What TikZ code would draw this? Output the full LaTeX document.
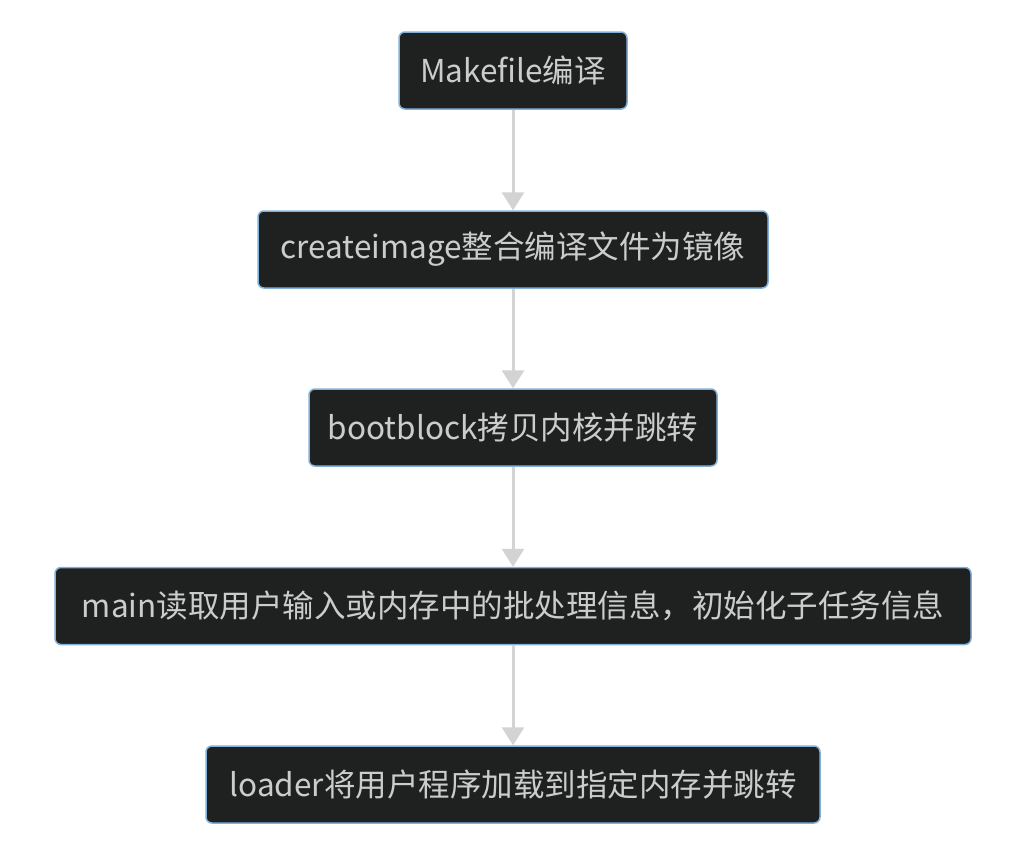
\documentclass[tikz,border=0pt]{standalone}
\usepackage{fontspec}
\setmainfont{Noto Sans CJK SC}
\usetikzlibrary{arrows.meta}
\definecolor{boxfill}{HTML}{1F2020}
\definecolor{boxline}{HTML}{81B1DB}
\definecolor{txt}{HTML}{CCCCCC}
\definecolor{arr}{HTML}{D3D3D3}
\begin{document}
\begin{tikzpicture}[x=1pt,y=-1pt,
  stepbox/.style={draw=boxline,line width=1.5pt,fill=boxfill,rounded corners=6pt,
    text=txt,font=\fontsize{31.5}{36}\selectfont,inner sep=0pt,anchor=center},
  conn/.style={draw=arr,line width=3pt,-{Triangle[width=22pt,length=18pt]}}]
\useasboundingbox[fill=white] (0,0) rectangle (1011,841);
\node[stepbox,minimum width=228pt,minimum height=77pt] (a) at (513,70.5) {Makefile编译};
\node[stepbox,minimum width=510pt,minimum height=77pt] (b) at (513,249.5) {createimage整合编译文件为镜像};
\node[stepbox,minimum width=408pt,minimum height=77pt] (c) at (513,427.5) {bootblock拷贝内核并跳转};
\node[stepbox,minimum width=916pt,minimum height=77pt] (d) at (513,606) {main读取用户输入或内存中的批处理信息，初始化子任务信息};
\node[stepbox,minimum width=614pt,minimum height=77pt] (e) at (513,784.5) {loader将用户程序加载到指定内存并跳转};
\draw[conn] (a) -- (b);
\draw[conn] (b) -- (c);
\draw[conn] (c) -- (d);
\draw[conn] (d) -- (e);
\end{tikzpicture}
\end{document}
